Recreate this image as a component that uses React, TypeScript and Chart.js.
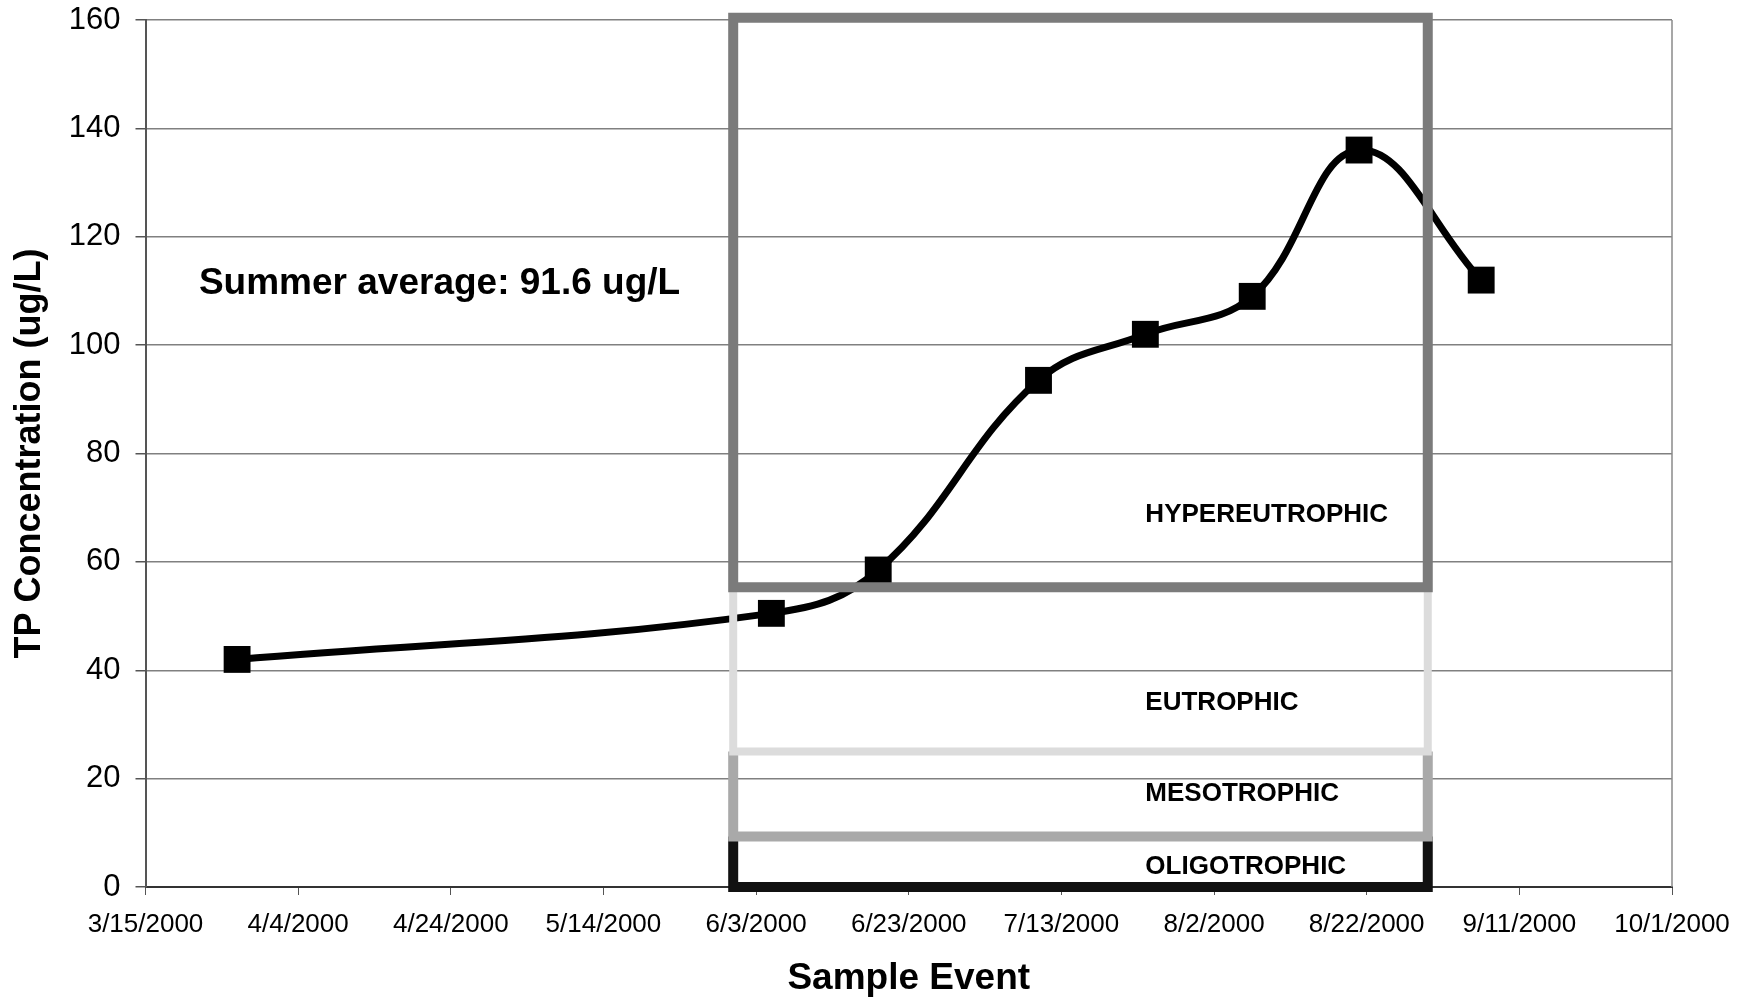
import { useEffect, useRef } from "react";
import { Chart, registerables } from "chart.js";

Chart.register(...registerables);

// Sampling record: total phosphorus at each sample event
const ORIGIN_DATE = "3/15/2000";
const sampleDates = [
  "3/27/2000",
  "6/5/2000",
  "6/19/2000",
  "7/10/2000",
  "7/24/2000",
  "8/7/2000",
  "8/21/2000",
  "9/6/2000",
];
const tpValues = [42, 50.5, 58.5, 93.5, 102, 109, 136, 112];

// Axis ticks
const xTickLabels = [
  "3/15/2000",
  "4/4/2000",
  "4/24/2000",
  "5/14/2000",
  "6/3/2000",
  "6/23/2000",
  "7/13/2000",
  "8/2/2000",
  "8/22/2000",
  "9/11/2000",
  "10/1/2000",
];
const yMin = 0;
const yMax = 160;
const yStep = 20;

// Summer window and trophic-state bands (ug/L)
const summerStart = "5/31/2000";
const summerEnd = "8/30/2000";
const zoneNames = ["OLIGOTROPHIC", "MESOTROPHIC", "EUTROPHIC", "HYPEREUTROPHIC"];
const zoneLow = [0, 9.3, 25, 55.3];
const zoneHigh = [9.3, 25, 55.3, 160.4];
const zoneLabelY = [3.8, 17.2, 34, 68.7];
const zoneLabelDate = "7/24/2000";

const summerNote = "Summer average: 91.6 ug/L";
const summerNoteDate = "3/22/2000";
const summerNoteY = 111.3;

// Band outline styles
const zoneColors = ["#111111", "#a9a9a9", "#dcdcdc", "#7b7b7b"];
const zoneWidths = [10, 10, 8, 10];

const FONT = "'Liberation Sans', Arial, Helvetica, sans-serif";

function dayOffset(s: string): number {
  const [m, d, y] = s.split("/").map(Number);
  const [om, od, oy] = ORIGIN_DATE.split("/").map(Number);
  return (Date.UTC(y, m - 1, d) - Date.UTC(oy, om - 1, od)) / 86400000;
}

const zonesPlugin = {
  id: "trophicZones",
  beforeDatasetsDraw(chart: any) {
    const { ctx, chartArea } = chart;
    ctx.save();
    ctx.strokeStyle = "#8a8a8a";
    ctx.lineWidth = 1.5;
    ctx.beginPath();
    ctx.moveTo(chartArea.right, chartArea.top);
    ctx.lineTo(chartArea.right, chartArea.bottom);
    ctx.stroke();
    ctx.restore();
  },
  afterDatasetsDraw(chart: any) {
    const { ctx } = chart;
    const x = chart.scales.x;
    const y = chart.scales.y;
    const xl = x.getPixelForValue(dayOffset(summerStart));
    const xr = x.getPixelForValue(dayOffset(summerEnd));
    ctx.save();
    ctx.lineJoin = "miter";
    ctx.lineCap = "butt";
    zoneNames.forEach((_, i) => {
      const top = y.getPixelForValue(zoneHigh[i]);
      const bot = y.getPixelForValue(zoneLow[i]);
      ctx.strokeStyle = zoneColors[i];
      ctx.lineWidth = zoneWidths[i];
      ctx.beginPath();
      if (i === zoneNames.length - 1) {
        ctx.rect(xl, top, xr - xl, bot - top);
      } else {
        ctx.moveTo(xl, top);
        ctx.lineTo(xl, bot);
        ctx.lineTo(xr, bot);
        ctx.lineTo(xr, top);
      }
      ctx.stroke();
    });

    ctx.fillStyle = "#000";
    ctx.textAlign = "left";
    ctx.textBaseline = "middle";
    ctx.font = `bold 26px ${FONT}`;
    const lx = x.getPixelForValue(dayOffset(zoneLabelDate));
    zoneNames.forEach((name, i) => {
      ctx.fillText(name, lx, y.getPixelForValue(zoneLabelY[i]));
    });

    ctx.font = `bold 37px ${FONT}`;
    ctx.fillText(
      summerNote,
      x.getPixelForValue(dayOffset(summerNoteDate)),
      y.getPixelForValue(summerNoteY)
    );
    ctx.restore();
  },
};

export default function App() {
  const canvasRef = useRef<HTMLCanvasElement | null>(null);

  useEffect(() => {
    if (!canvasRef.current) return;
    const points = sampleDates.map((d, i) => ({ x: dayOffset(d), y: tpValues[i] }));
    const xTickValues = xTickLabels.map(dayOffset);

    const chart = new Chart(canvasRef.current, {
      type: "line",
      data: {
        datasets: [
          {
            label: "TP",
            data: points,
            borderColor: "#000",
            backgroundColor: "#000",
            borderWidth: 7,
            tension: 0.4,
            pointStyle: "rect",
            pointRadius: 19,
            pointHoverRadius: 19,
            pointBorderWidth: 0,
            pointBackgroundColor: "#000",
            clip: false as any,
          },
        ],
      },
      options: {
        animation: false,
        responsive: false,
        events: [],
        layout: { padding: { left: 0, right: 74, top: 20, bottom: 0 } },
        plugins: {
          legend: { display: false },
          tooltip: { enabled: false },
          title: { display: false },
        },
        scales: {
          x: {
            type: "linear",
            min: xTickValues[0],
            max: xTickValues[xTickValues.length - 1],
            afterBuildTicks: (scale: any) => {
              scale.ticks = xTickValues.map((v) => ({ value: v }));
            },
            afterFit: (scale: any) => {
              scale.height = 114;
              scale.paddingLeft = 0;
              scale.paddingRight = 0;
            },
            grid: {
              drawOnChartArea: false,
              drawTicks: true,
              tickLength: 8,
              tickColor: "#555",
            },
            border: { color: "#333", width: 2 },
            ticks: {
              color: "#000",
              padding: 14,
              maxRotation: 0,
              autoSkip: false,
              font: { family: FONT, size: 26 },
              callback: (value: any) => {
                const idx = xTickValues.indexOf(Number(value));
                return idx >= 0 ? xTickLabels[idx] : "";
              },
            },
            title: {
              display: true,
              text: "Sample Event",
              color: "#000",
              padding: { top: 0, bottom: 0 },
              font: { family: FONT, size: 37, weight: "bold" },
            },
          },
          y: {
            type: "linear",
            min: yMin,
            max: yMax,
            afterFit: (scale: any) => {
              scale.width = 145.5;
              scale.paddingTop = 0;
              scale.paddingBottom = 0;
            },
            grid: {
              color: "#808080",
              lineWidth: 1.5,
              tickLength: 10,
              tickColor: "#555",
            },
            border: { color: "#555", width: 2 },
            ticks: {
              stepSize: yStep,
              color: "#000",
              padding: 15,
              font: { family: FONT, size: 31 },
            },
            title: {
              display: true,
              text: "TP Concentration (ug/L)",
              color: "#000",
              padding: { top: 8, bottom: 0 },
              font: { family: FONT, size: 36, weight: "bold" },
            },
          },
        },
      },
      plugins: [zonesPlugin],
    });

    return () => chart.destroy();
  }, []);

  return (
    <div style={{ position: "absolute", left: 0, top: 0, width: 1746, height: 1001, background: "#fff" }}>
      <canvas ref={canvasRef} width={1746} height={1001} style={{ display: "block" }} />
    </div>
  );
}
